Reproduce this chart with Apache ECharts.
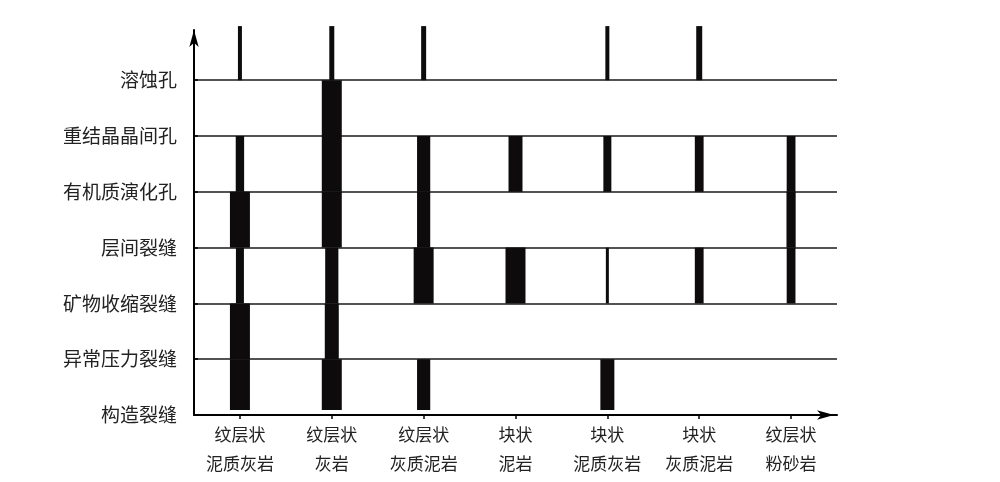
<!DOCTYPE html>
<html>
<head>
<meta charset="utf-8">
<script src="https://cdn.jsdelivr.net/npm/echarts@6/dist/echarts.min.js"></script>
<style>
html,body{margin:0;padding:0;background:#fff;}
#chart{width:1000px;height:482px;}
</style>
</head>
<body>
<div id="chart"></div>
<script>
// x categories (rock types)
const rockTypes = ['纹层状\n泥质灰岩', '纹层状\n灰岩', '纹层状\n灰质泥岩', '块状\n泥岩', '块状\n泥质灰岩', '块状\n灰质泥岩', '纹层状\n粉砂岩'];
// y categories (pore / fracture types), bottom to top
const poreTypes = ['构造裂缝', '异常压力裂缝', '矿物收缩裂缝', '层间裂缝', '有机质演化孔', '重结晶晶间孔', '溶蚀孔'];
// development degree per rock type, one value per pore type (bottom to top), 0 = absent
const dev_纹层状泥质灰岩 = [5, 5, 2, 5, 2.1, 0, 1];
const dev_纹层状灰岩 = [5, 3.5, 3.3, 5, 5, 5, 1.25];
const dev_纹层状灰质泥岩 = [3.3, 0, 5, 3.3, 3.3, 0, 1.25];
const dev_块状泥岩 = [0, 0, 5, 0, 3.5, 0, 0];
const dev_块状泥质灰岩 = [3.5, 0, 0.75, 0, 2, 0, 1];
const dev_块状灰质泥岩 = [0, 0, 2.2, 0, 2.2, 0, 1.5];
const dev_纹层状粉砂岩 = [0, 0, 2.2, 2.3, 2.2, 0, 0];

const devByRock = [dev_纹层状泥质灰岩, dev_纹层状灰岩, dev_纹层状灰质泥岩, dev_块状泥岩, dev_块状泥质灰岩, dev_块状灰质泥岩, dev_纹层状粉砂岩];

const data = [];
devByRock.forEach(function (arr, c) {
  arr.forEach(function (d, s) {
    if (d > 0) data.push([c, s, d]);
  });
});

const FONT = '"Noto Sans CJK SC", "Noto Sans", sans-serif';
const chart = echarts.init(document.getElementById('chart'), null, {renderer: 'canvas'});

chart.setOption({
  backgroundColor: '#ffffff',
  animation: false,
  grid: {left: 194, right: 163, top: 30, bottom: 67, containLabel: false},
  xAxis: {
    type: 'category',
    data: rockTypes,
    boundaryGap: true,
    axisLine: {
      show: true,
      lineStyle: {color: '#000', width: 2},
      symbol: ['none', 'arrow'],
      symbolSize: [7, 17],
      symbolOffset: [0, -3]
    },
    axisTick: {show: true, alignWithLabel: true, inside: false, length: 4, lineStyle: {color: '#000', width: 1.5}},
    axisLabel: {
      show: true, interval: 0, margin: 5,
      fontFamily: FONT, fontSize: 17, lineHeight: 29, color: '#222'
    },
    splitLine: {show: false}
  },
  yAxis: {
    type: 'value',
    min: 0,
    max: 6.9,
    interval: 1,
    axisLine: {
      show: true,
      lineStyle: {color: '#000', width: 2},
      symbol: ['none', 'arrow'],
      symbolSize: [7, 17]
    },
    axisTick: {show: true, inside: true, length: 4, lineStyle: {color: '#000', width: 1.5}},
    axisLabel: {
      show: true, margin: 17, showMaxLabel: false,
      fontFamily: FONT, fontSize: 19, color: '#222',
      formatter: function (v) {
        return (Number.isInteger(v) && poreTypes[v]) ? poreTypes[v] : '';
      }
    },
    splitLine: {show: true, showMinLine: false, showMaxLine: false, lineStyle: {color: '#1a1a1a', width: 1.5}}
  },
  series: [{
    type: 'custom',
    clip: false,
    encode: {x: 0, y: 1},
    data: data,
    renderItem: function (params, api) {
      const c = api.value(0);
      const s = api.value(1);
      const d = api.value(2);
      const yBottom = s === 0 ? 0.09 : s;
      const yTop = s === poreTypes.length - 1 ? 6.97 : s + 1;
      const pB = api.coord([c, yBottom]);
      const pT = api.coord([c, yTop]);
      const band = api.size([1, 0])[0];
      const w = d * band * 0.0435;
      return {
        type: 'rect',
        shape: {x: pB[0] - w / 2, y: pT[1], width: w, height: pB[1] - pT[1]},
        style: {fill: '#0d0b0b'}
      };
    }
  }]
});
</script>
</body>
</html>
